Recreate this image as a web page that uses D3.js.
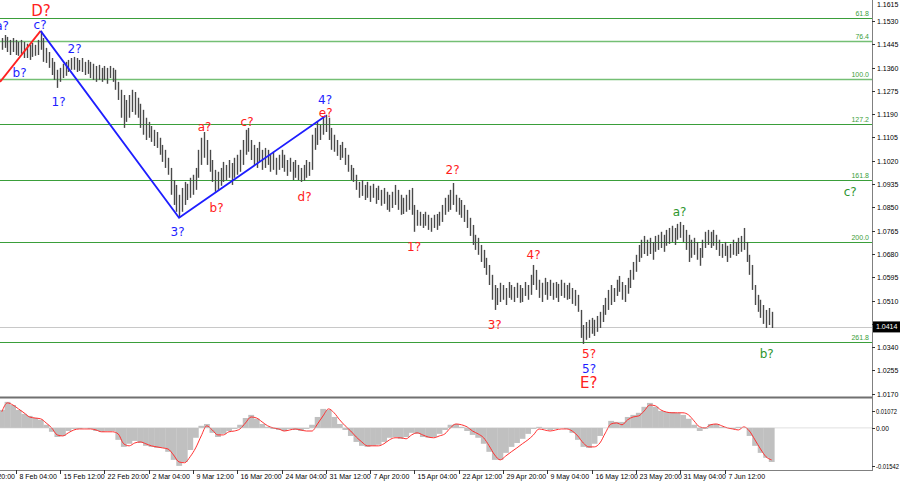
<!DOCTYPE html>
<html><head><meta charset="utf-8">
<script src="https://cdn.jsdelivr.net/npm/d3@7"></script>
<style>body{margin:0;background:#fff}svg{display:block}</style></head>
<body><svg id="c" width="900" height="485"></svg>
<script>
// ---- data ----
// H8 bars (2 x H4) starting at H4 bar index 22 counted from "31 Jan 20:00"
const firstBar = 22, barStep = 2;
const highs = [
1.1468,1.1479,1.1472,1.1461,1.1468,1.1461,1.1454,1.1461,1.1454,1.1447,
1.1443,1.1450,1.1443,1.1461,1.1494,1.1468,1.1432,1.1417,1.1395,1.1381,
1.1352,1.1359,1.1374,1.1381,1.1388,1.1395,1.1399,1.1395,1.1388,1.1395,
1.1381,1.1388,1.1381,1.1374,1.1366,1.1370,1.1359,1.1366,1.1359,1.1366,
1.1359,1.1352,1.1308,1.1279,1.1260,1.1242,1.1260,1.1279,1.1271,1.1250,
1.1228,1.1206,1.1177,1.1162,1.1147,1.1133,1.1125,1.1104,1.1078,1.1060,
1.1031,1.0994,1.0950,1.0932,1.0896,1.0921,1.0943,1.0936,1.0958,1.0969,
1.0994,1.1060,1.1104,1.1125,1.1096,1.1060,1.1023,1.0987,1.0980,1.0994,
1.1016,1.1005,1.1023,1.1012,1.1031,1.1042,1.1060,1.1096,1.1133,1.1140,
1.1096,1.1078,1.1067,1.1089,1.1060,1.1067,1.1060,1.1042,1.1053,1.1031,
1.1042,1.1060,1.1042,1.1023,1.1031,1.1016,1.1023,1.1005,1.0994,1.1005,
1.1023,1.1016,1.1115,1.1140,1.1162,1.1151,1.1177,1.1188,1.1177,1.1140,
1.1115,1.1096,1.1078,1.1089,1.1067,1.1042,1.1005,1.0994,1.0969,1.0943,
1.0950,1.0932,1.0943,1.0929,1.0936,1.0921,1.0929,1.0914,1.0921,1.0907,
1.0896,1.0907,1.0932,1.0914,1.0896,1.0885,1.0896,1.0914,1.0921,1.0859,
1.0841,1.0834,1.0826,1.0834,1.0823,1.0812,1.0823,1.0826,1.0834,1.0859,
1.0885,1.0896,1.0914,1.0939,1.0896,1.0885,1.0877,1.0859,1.0841,1.0812,
1.0786,1.0750,1.0739,1.0713,1.0695,1.0666,1.0640,1.0604,1.0567,1.0556,
1.0575,1.0567,1.0556,1.0578,1.0567,1.0560,1.0575,1.0567,1.0556,1.0578,
1.0567,1.0604,1.0640,1.0622,1.0586,1.0575,1.0593,1.0578,1.0586,1.0575,
1.0578,1.0571,1.0586,1.0575,1.0567,1.0575,1.0556,1.0549,1.0531,1.0476,
1.0421,1.0432,1.0440,1.0447,1.0440,1.0454,1.0469,1.0494,1.0520,1.0549,
1.0567,1.0556,1.0586,1.0600,1.0578,1.0567,1.0593,1.0622,1.0651,1.0677,
1.0713,1.0732,1.0746,1.0732,1.0739,1.0724,1.0746,1.0750,1.0761,1.0750,
1.0768,1.0775,1.0783,1.0775,1.0790,1.0797,1.0786,1.0768,1.0750,1.0732,
1.0739,1.0724,1.0702,1.0732,1.0761,1.0768,1.0761,1.0768,1.0750,1.0732,
1.0717,1.0724,1.0710,1.0717,1.0732,1.0724,1.0739,1.0746,1.0775,1.0724,
1.0677,1.0640,1.0567,1.0531,1.0513,1.0494,1.0476,1.0483,1.0469];
const lows = [
1.1425,1.1432,1.1417,1.1406,1.1417,1.1406,1.1403,1.1410,1.1395,1.1395,
1.1388,1.1399,1.1403,1.1406,1.1425,1.1381,1.1377,1.1359,1.1333,1.1315,
1.1286,1.1308,1.1322,1.1330,1.1344,1.1352,1.1352,1.1344,1.1348,1.1344,
1.1333,1.1337,1.1322,1.1315,1.1308,1.1315,1.1308,1.1315,1.1301,1.1322,
1.1308,1.1279,1.1242,1.1177,1.1140,1.1162,1.1177,1.1198,1.1188,1.1177,
1.1140,1.1115,1.1096,1.1104,1.1089,1.1074,1.1067,1.1042,1.1016,1.0994,
1.0969,1.0896,1.0859,1.0834,1.0812,1.0834,1.0859,1.0877,1.0885,1.0896,
1.0914,1.0958,1.1005,1.1031,1.1005,1.0980,1.0943,1.0907,1.0914,1.0929,
1.0943,1.0950,1.0958,1.0932,1.0958,1.0969,1.0980,1.1005,1.1042,1.1053,
1.1023,1.1005,1.0994,1.1016,1.0987,1.0994,1.1005,1.0980,1.0987,1.0969,
1.0987,1.0994,1.0980,1.0965,1.0980,1.0950,1.0958,1.0950,1.0943,1.0947,
1.0958,1.0965,1.0987,1.1060,1.1078,1.1096,1.1115,1.1125,1.1096,1.1060,
1.1053,1.1038,1.1023,1.1031,1.1005,1.0980,1.0950,1.0943,1.0914,1.0885,
1.0892,1.0877,1.0885,1.0870,1.0885,1.0863,1.0877,1.0856,1.0863,1.0841,
1.0834,1.0848,1.0859,1.0841,1.0823,1.0826,1.0834,1.0841,1.0823,1.0761,
1.0783,1.0783,1.0775,1.0783,1.0768,1.0761,1.0775,1.0768,1.0783,1.0797,
1.0823,1.0834,1.0841,1.0859,1.0834,1.0823,1.0812,1.0797,1.0775,1.0746,
1.0713,1.0695,1.0677,1.0651,1.0629,1.0604,1.0567,1.0513,1.0476,1.0494,
1.0505,1.0513,1.0494,1.0520,1.0513,1.0505,1.0520,1.0502,1.0505,1.0527,
1.0513,1.0531,1.0567,1.0549,1.0520,1.0505,1.0531,1.0513,1.0527,1.0513,
1.0520,1.0505,1.0527,1.0520,1.0513,1.0516,1.0498,1.0491,1.0469,1.0374,
1.0352,1.0367,1.0374,1.0389,1.0381,1.0396,1.0410,1.0432,1.0458,1.0476,
1.0494,1.0505,1.0527,1.0542,1.0513,1.0505,1.0535,1.0556,1.0586,1.0615,
1.0651,1.0666,1.0680,1.0673,1.0680,1.0659,1.0688,1.0695,1.0702,1.0688,
1.0710,1.0717,1.0724,1.0713,1.0732,1.0739,1.0724,1.0695,1.0651,1.0666,
1.0677,1.0659,1.0637,1.0666,1.0702,1.0713,1.0702,1.0710,1.0695,1.0673,
1.0666,1.0673,1.0651,1.0666,1.0677,1.0673,1.0680,1.0688,1.0695,1.0651,
1.0604,1.0549,1.0494,1.0469,1.0447,1.0425,1.0410,1.0421,1.0410];

// oscillator, one value per 4 H4 bars starting at bar 22
const oscFirstBar = 22, oscStep = 4;
const oscHist = [
0.0069,0.0100,0.0088,0.0069,0.0054,0.0046,0.0038,0.0031,0.0012,-0.0015,
-0.0035,-0.0031,-0.0012,-0.0004,-0.0004,0.0000,-0.0004,-0.0012,-0.0015,-0.0012,
-0.0012,-0.0046,-0.0073,-0.0061,-0.0050,-0.0058,-0.0069,-0.0073,-0.0077,-0.0077,
-0.0092,-0.0123,-0.0146,-0.0131,-0.0085,-0.0038,0.0008,0.0015,-0.0019,-0.0035,
-0.0023,-0.0012,-0.0004,0.0012,0.0038,0.0050,0.0035,0.0015,0.0004,-0.0004,
-0.0008,-0.0012,-0.0004,-0.0008,-0.0012,-0.0004,0.0012,0.0042,0.0073,0.0069,
0.0042,0.0015,-0.0008,-0.0031,-0.0054,-0.0069,-0.0073,-0.0069,-0.0065,-0.0054,
-0.0038,-0.0035,-0.0042,-0.0035,-0.0019,-0.0023,-0.0035,-0.0038,-0.0035,-0.0023,
-0.0008,0.0012,0.0015,0.0004,-0.0012,-0.0027,-0.0038,-0.0061,-0.0092,-0.0123,
-0.0123,-0.0096,-0.0073,-0.0058,-0.0042,-0.0023,-0.0004,0.0004,-0.0004,-0.0008,
-0.0004,0.0000,-0.0004,-0.0019,-0.0046,-0.0073,-0.0077,-0.0061,-0.0031,0.0000,
0.0027,0.0023,0.0023,0.0042,0.0050,0.0058,0.0081,0.0096,0.0081,0.0065,
0.0061,0.0061,0.0058,0.0050,0.0035,0.0012,-0.0012,-0.0004,0.0015,0.0015,
0.0004,0.0000,-0.0004,0.0004,0.0000,-0.0031,-0.0069,-0.0096,-0.0115,-0.0131];
const oscSignal = [
0.0062,0.0096,0.0088,0.0073,0.0058,0.0042,0.0038,0.0035,0.0019,0.0000,
-0.0027,-0.0031,-0.0019,-0.0008,-0.0004,-0.0004,-0.0004,-0.0008,-0.0015,-0.0015,
-0.0015,-0.0023,-0.0061,-0.0069,-0.0058,-0.0054,-0.0061,-0.0069,-0.0073,-0.0077,
-0.0081,-0.0104,-0.0131,-0.0134,-0.0111,-0.0077,-0.0031,0.0008,-0.0008,-0.0027,
-0.0027,-0.0015,-0.0012,-0.0004,0.0019,0.0042,0.0038,0.0023,0.0008,0.0000,
-0.0004,-0.0012,-0.0008,-0.0004,-0.0008,-0.0012,-0.0012,0.0015,0.0046,0.0073,
0.0058,0.0031,0.0008,-0.0012,-0.0035,-0.0054,-0.0069,-0.0069,-0.0069,-0.0061,
-0.0046,-0.0038,-0.0038,-0.0042,-0.0027,-0.0019,-0.0027,-0.0035,-0.0038,-0.0031,
-0.0023,0.0000,0.0015,0.0012,0.0004,-0.0012,-0.0023,-0.0038,-0.0069,-0.0104,
-0.0123,-0.0108,-0.0092,-0.0077,-0.0061,-0.0046,-0.0027,-0.0004,-0.0008,-0.0012,
-0.0008,-0.0004,-0.0004,-0.0012,-0.0031,-0.0058,-0.0073,-0.0073,-0.0058,-0.0019,
0.0015,0.0019,0.0012,0.0031,0.0042,0.0046,0.0065,0.0088,0.0085,0.0069,
0.0061,0.0058,0.0058,0.0058,0.0050,0.0027,0.0004,0.0000,0.0012,0.0015,
0.0008,0.0000,-0.0004,-0.0008,0.0004,-0.0012,-0.0046,-0.0081,-0.0111,-0.0123];

const timeLabels = ["31 Jan 20:00","8 Feb 04:00","15 Feb 12:00","22 Feb 20:00","2 Mar 04:00",
"9 Mar 12:00","16 Mar 20:00","24 Mar 04:00","31 Mar 12:00","7 Apr 20:00","15 Apr 04:00",
"22 Apr 12:00","29 Apr 20:00","9 May 04:00","16 May 12:00","23 May 20:00","31 May 04:00","7 Jun 12:00"];
const timeLabelStep = 32;
const priceTicks = [1.1615,1.1530,1.1445,1.1360,1.1275,1.1190,1.1105,1.1020,1.0935,1.0850,
1.0765,1.0680,1.0595,1.0510,1.0425,1.0340,1.0255,1.0170];
const fibNames = ["61.8","76.4","100.0","127.2","161.8","200.0","261.8"];
const fibPrices = [1.1541,1.1457,1.1318,1.1154,1.0950,1.0724,1.0359];
const fibSoft = [false,true,true,false,false,false,false];
const lastPrice = 1.0414;
const oscTicks = [0.01072, 0.00, -0.01542];
const oscTickText = ["0.01072","0.00","-0.01542"];

const redWave = [[20.7,1.1308],[50,1.1494]];
const blueWave = [[50,1.1494],[150,1.0812],[256,1.1184]];
// wave labels: text, H4 bar, price, colour, size
const waveLabels = [
 ["a?",22.1,1.1512,"b",12],["D?",50.3,1.1567,"r",15],["c?",49.6,1.1514,"b",12],
 ["b?",34.8,1.1341,"b",12],["2?",74.5,1.1428,"b",12],["1?",63.0,1.1233,"b",12],
 ["3?",148.9,1.0759,"b",12],["a?",168.4,1.1144,"r",12],["b?",177.1,1.0848,"r",12],
 ["c?",199.1,1.1160,"r",12],["d?",240.7,1.0888,"r",12],["e?",255.9,1.1194,"r",12],
 ["4?",255.5,1.1242,"b",12],["1?",319.8,1.0706,"r",12],["2?",347.6,1.0987,"r",12],
 ["3?",378,1.0421,"r",12],["4?",406.1,1.0677,"r",12],["5?",446.2,1.0314,"r",12],
 ["5?",446.2,1.0260,"b",12],["E?",445.9,1.0208,"r",15],["a?",511.6,1.0832,"g",12],
 ["b?",574.5,1.0317,"g",12],["c?",634.8,1.0907,"g",12]];

// ---- drawing ----
const colors = {b:"#1e1eff", r:"#ff2020", g:"#2e962e"};
const labelFont = "'DejaVu Sans', 'Noto Sans', sans-serif";
const axisFont = "'Liberation Sans', Arial, sans-serif";
const svg = d3.select("#c");
const plotRight = 872;
const x = d3.scaleLinear().domain([0, 32]).range([-28.6, 15.7]);
const y = d3.scaleLinear().domain([1.0170, 1.1530]).range([393.8, 21.0]);
const yo = d3.scaleLinear().domain([-0.01542, 0.01072]).range([468, 400]);

const defs = svg.append("defs");
defs.append("clipPath").attr("id","mainclip").append("rect")
  .attr("x",0).attr("y",0).attr("width",plotRight).attr("height",396);
defs.append("clipPath").attr("id","oscclip").append("rect")
  .attr("x",0).attr("y",399).attr("width",plotRight).attr("height",70);

const main = svg.append("g").attr("clip-path","url(#mainclip)");

// fib levels
fibPrices.forEach((p,i)=>{
  const yy = Math.round(y(p))+0.5;
  main.append("line").attr("x1",0).attr("x2",plotRight)
    .attr("y1",yy).attr("y2",yy)
    .attr("stroke",fibSoft[i]?"#74bf74":"#3a9e3a").attr("stroke-width",fibSoft[i]?1.6:1);
  main.append("text").attr("x",869).attr("y",yy-2.5)
    .attr("text-anchor","end").attr("font-family",axisFont)
    .attr("font-size",7).attr("fill","#3a9e3a").text(fibNames[i]);
});
// last price line
main.append("line").attr("x1",0).attr("x2",plotRight)
  .attr("y1",Math.round(y(lastPrice))+0.5).attr("y2",Math.round(y(lastPrice))+0.5)
  .attr("stroke","#c8c8c8").attr("stroke-width",1);

// bars
main.append("g").selectAll("line").data(highs).join("line")
  .attr("x1",(d,i)=>Math.round(x(firstBar+barStep*i))+0.5)
  .attr("x2",(d,i)=>Math.round(x(firstBar+barStep*i))+0.5)
  .attr("y1",d=>y(d)).attr("y2",(d,i)=>y(lows[i]))
  .attr("stroke","#4a4a4a").attr("stroke-width",1.4);

// wave lines
const lineGen = d3.line().x(d=>x(d[0])).y(d=>y(d[1]));
main.append("path").attr("d",lineGen(redWave)).attr("fill","none").attr("stroke","#ff2020").attr("stroke-width",1.8);
main.append("path").attr("d",lineGen(blueWave)).attr("fill","none").attr("stroke","#1e1eff").attr("stroke-width",1.8);

// labels
main.append("g").selectAll("text").data(waveLabels).join("text")
  .attr("x",d=>x(d[1])).attr("y",d=>y(d[2]))
  .attr("text-anchor","middle").attr("dominant-baseline","central")
  .style("font-family",labelFont).attr("font-size",d=>d[4])
  .attr("fill",d=>colors[d[3]]).text(d=>d[0]);

// oscillator
const osc = svg.append("g").attr("clip-path","url(#oscclip)");
const bw = x(oscStep) - x(0);
osc.append("g").selectAll("rect").data(oscHist).join("rect")
  .attr("x",(d,i)=>x(oscFirstBar+oscStep*i)-bw/2)
  .attr("width",bw+0.3)
  .attr("y",d=>Math.min(yo(d),yo(0)))
  .attr("height",d=>Math.abs(yo(d)-yo(0)))
  .attr("fill","#c0c0c0");
osc.append("path")
  .attr("d",d3.line().x((d,i)=>x(oscFirstBar+oscStep*i)).y(d=>yo(d)).curve(d3.curveMonotoneX)(oscSignal))
  .attr("fill","none").attr("stroke","#ff3030").attr("stroke-width",1);

// frame
svg.append("line").attr("x1",0).attr("x2",plotRight).attr("y1",397.5).attr("y2",397.5).attr("stroke","#707070").attr("stroke-width",2);
svg.append("line").attr("x1",plotRight+0.5).attr("x2",plotRight+0.5).attr("y1",0).attr("y2",471).attr("stroke","#808080").attr("stroke-width",1);
svg.append("line").attr("x1",0).attr("x2",plotRight+1).attr("y1",470.5).attr("y2",470.5).attr("stroke","#808080").attr("stroke-width",1);

// price axis
const pa = svg.append("g");
const ly = y(lastPrice);
priceTicks.forEach(p=>{
  const yy = Math.round(y(p))+0.5;
  pa.append("line").attr("x1",plotRight).attr("x2",plotRight+3).attr("y1",yy).attr("y2",yy).attr("stroke","#333");
  if (Math.abs(yy-ly) < 9) return; // hidden behind the last-price box
  pa.append("text").attr("x",plotRight+5).attr("y",Math.max(yy,4)).attr("dominant-baseline","central")
    .attr("font-family",axisFont).attr("font-size",7).attr("fill","#000").text(p.toFixed(4));
});
pa.append("rect").attr("x",plotRight+1).attr("y",ly-5.5).attr("width",27).attr("height",11).attr("fill","#000");
pa.append("text").attr("x",plotRight+4).attr("y",ly).attr("dominant-baseline","central")
  .attr("font-family",axisFont).attr("font-size",7).attr("fill","#fff").text(lastPrice.toFixed(4));

// osc axis
const oscLabelY = [411, 428, 466];
const oscLabelW = [21, 0, 23];
oscTicks.forEach((v,i)=>{
  const yy = oscLabelY[i];
  pa.append("line").attr("x1",plotRight).attr("x2",plotRight+3).attr("y1",yy+0.5).attr("y2",yy+0.5).attr("stroke","#333");
  const t = pa.append("text").attr("x",plotRight+4).attr("y",yy).attr("dominant-baseline","central")
    .attr("font-family",axisFont).attr("font-size",6.6).attr("fill","#000").text(oscTickText[i]);
  if (oscLabelW[i]) t.attr("textLength",oscLabelW[i]).attr("lengthAdjust","spacingAndGlyphs");
});
// zero line
osc.append("line").attr("x1",0).attr("x2",plotRight).attr("y1",yo(0)).attr("y2",yo(0)).attr("stroke","#c0c0c0").attr("stroke-width",0.5);

// time axis
const ta = svg.append("g");
timeLabels.forEach((t,i)=>{
  const xx = Math.round(x(timeLabelStep*i))+0.5;
  ta.append("line").attr("x1",xx).attr("x2",xx).attr("y1",470).attr("y2",474).attr("stroke","#333");
  ta.append("text").attr("x",xx+3).attr("y",476.5).attr("dominant-baseline","central")
    .attr("font-family",axisFont).attr("font-size",7).attr("fill","#000").text(t);
});
</script></body></html>
